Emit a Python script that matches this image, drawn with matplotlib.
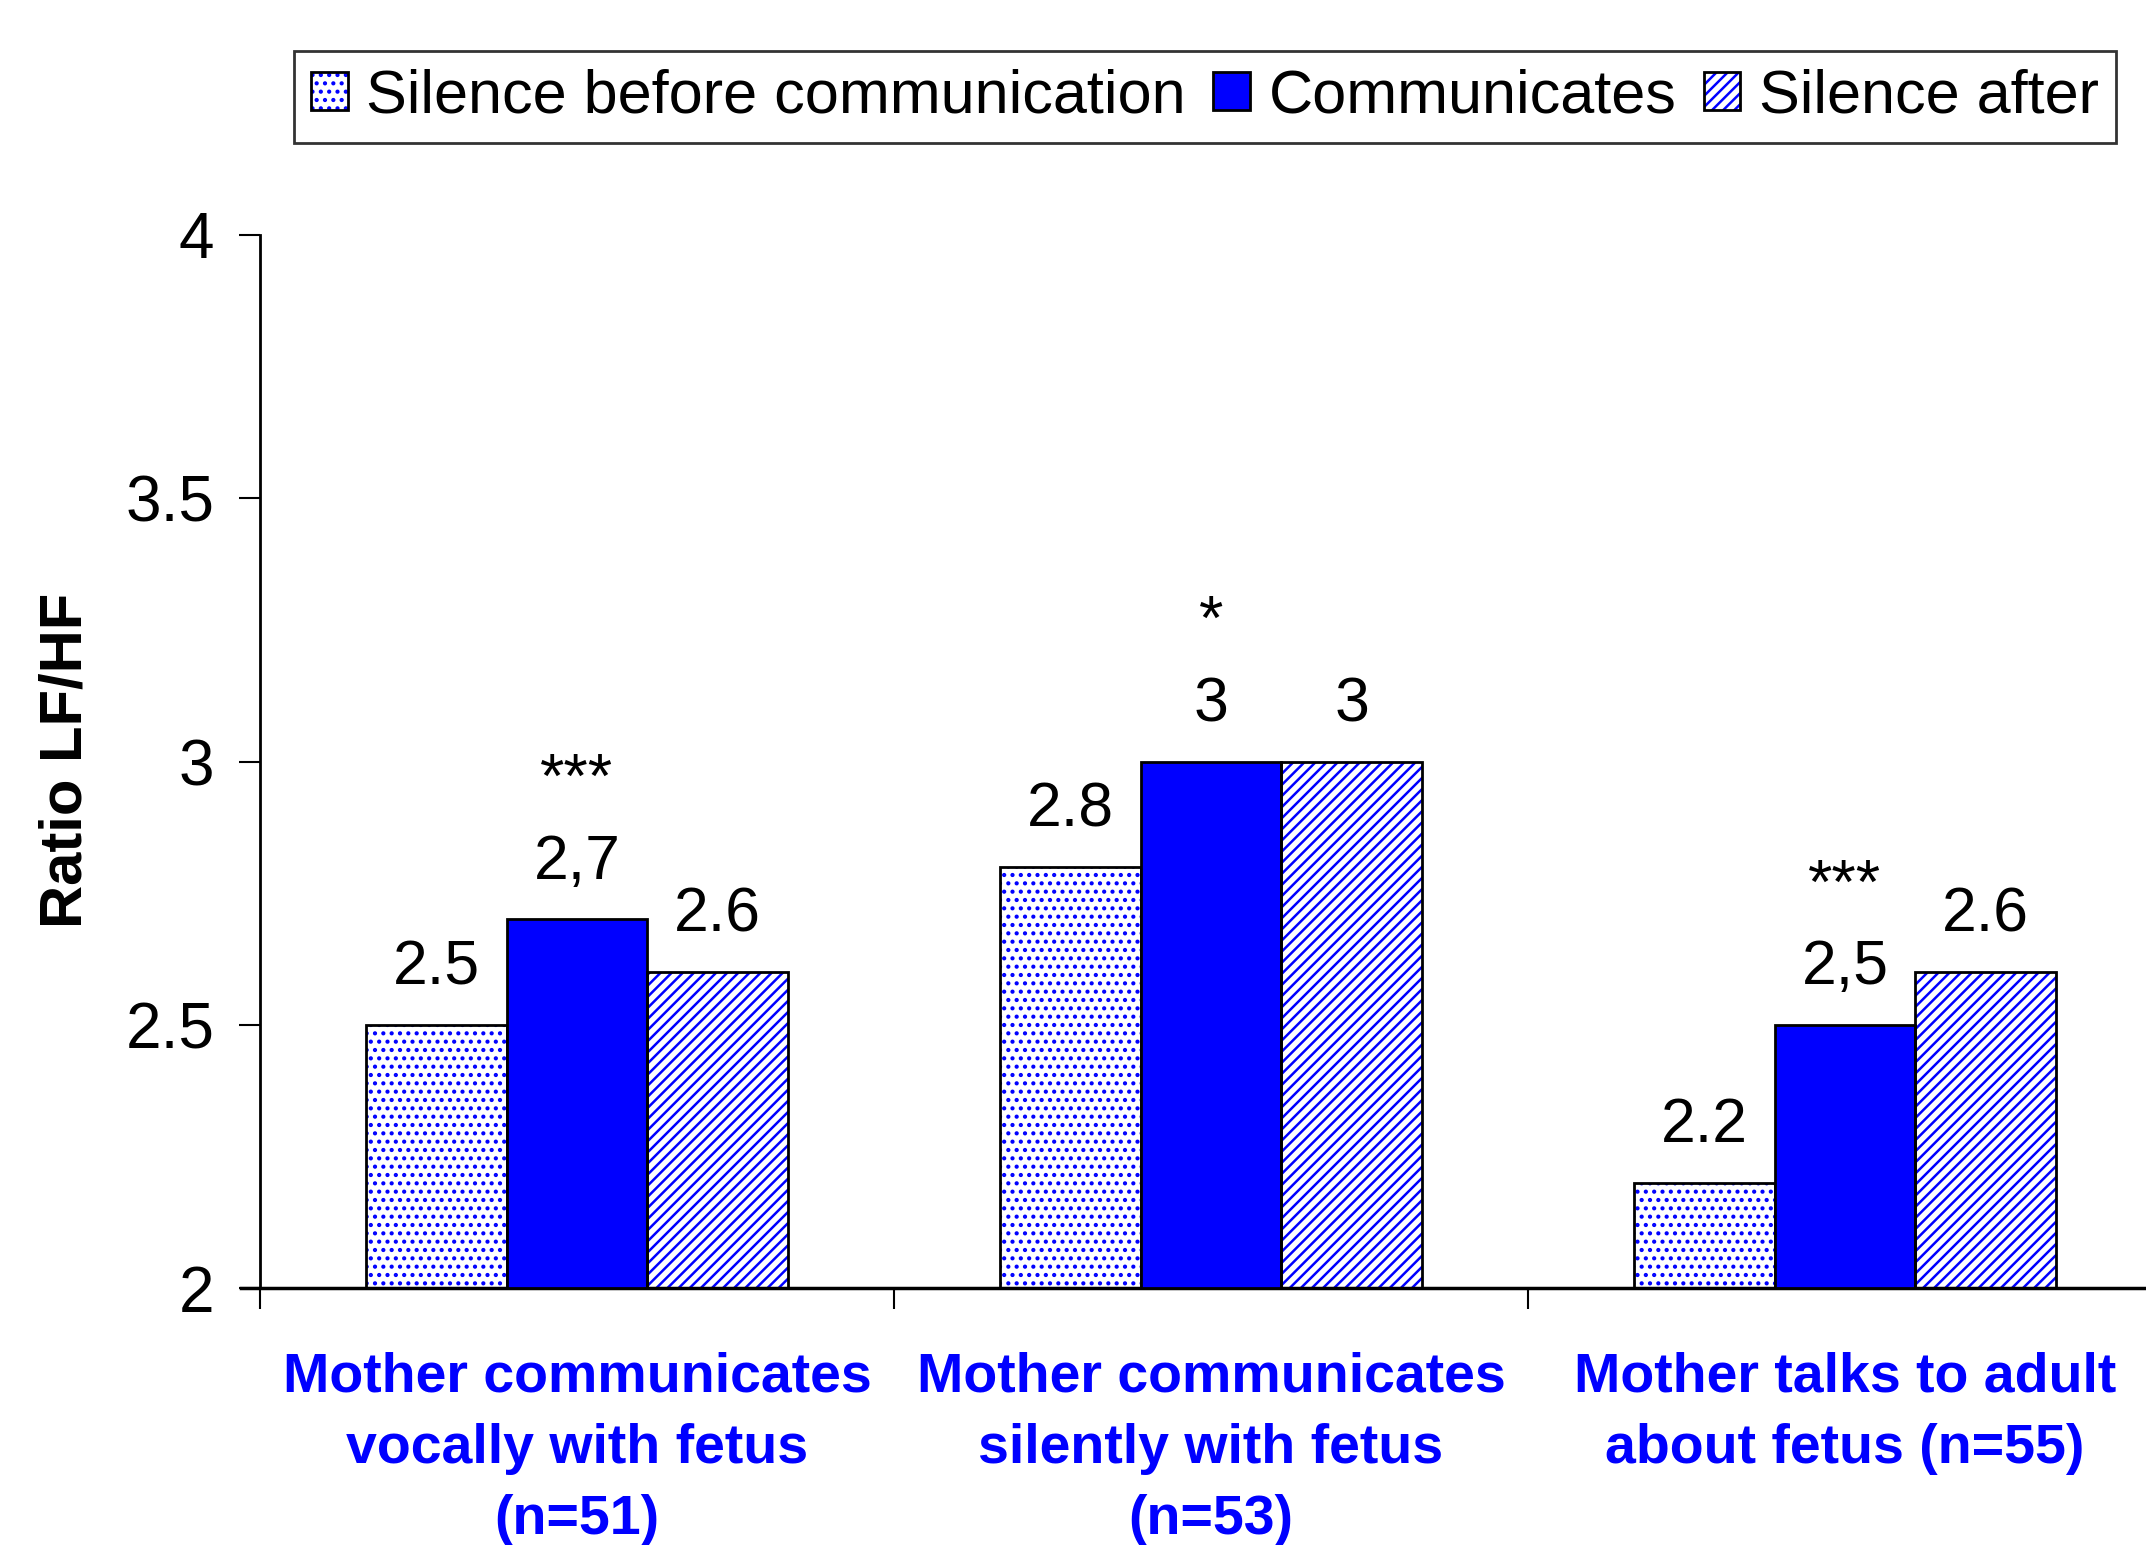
import matplotlib
matplotlib.use("Agg")
import matplotlib.pyplot as plt
from matplotlib.patches import Patch
import numpy as np

plt.rcParams['font.family'] = ['Liberation Sans', 'DejaVu Sans']
plt.rcParams['hatch.linewidth'] = 1.8

categories = ["Mother communicates\nvocally with fetus\n(n=51)",
              "Mother communicates\nsilently with fetus\n(n=53)",
              "Mother talks to adult\nabout fetus (n=55)"]
series_names = ["Silence before communication", "Communicates", "Silence after"]
before = [2.5, 2.8, 2.2]
communicates = [2.7, 3.0, 2.5]
after = [2.6, 3.0, 2.6]
before_labels = ["2.5", "2.8", "2.2"]
comm_labels = ["2,7", "3", "2,5"]
after_labels = ["2.6", "3", "2.6"]
stars = ["***", "*", "***"]
yticks = [2, 2.5, 3, 3.5, 4]
ytick_labels = ["2", "2.5", "3", "3.5", "4"]

BLUE = "#0000FF"
W, H = 2146, 1545
fig = plt.figure(figsize=(W / 100, H / 100), dpi=100)
left, right = 260, 2162
bottom_px, top_px = 1288, 235
ax = fig.add_axes([left / W, 1 - bottom_px / H, (right - left) / W, (bottom_px - top_px) / H])

x = np.arange(len(categories))
width = 0.222
series = [before, communicates, after]
labels = [before_labels, comm_labels, after_labels]
hatches = ['..', None, '///']
offsets = [-width, 0, width]
handles = []
for vals, lbls, hatch, off, name in zip(series, labels, hatches, offsets, series_names):
    if hatch is None:
        ax.bar(x + off, np.array(vals) - 2, width, bottom=2, color=BLUE,
               edgecolor='black', linewidth=2, zorder=3)
        h = Patch(facecolor=BLUE, edgecolor='black', linewidth=2)
    else:
        ax.bar(x + off, np.array(vals) - 2, width, bottom=2, facecolor='white',
               edgecolor=BLUE, hatch=hatch, linewidth=0, zorder=2)
        ax.bar(x + off, np.array(vals) - 2, width, bottom=2, fill=False,
               edgecolor='black', linewidth=2, zorder=3)
        h = (Patch(facecolor='white', edgecolor=BLUE, hatch=hatch, linewidth=0),
             Patch(fill=False, edgecolor='black', linewidth=2))
    handles.append(h)
    for xi, v, lb in zip(x + off, vals, lbls):
        ax.annotate(lb, (xi, v), xytext=(0, 41), textcoords='offset points',
                    ha='center', va='center', fontsize=45, clip_on=False)

for xi, v, s in zip(x, communicates, stars):
    ax.annotate(s, (xi, v), xytext=(0, 100), textcoords='offset points',
                ha='center', va='center', fontsize=45, clip_on=False)

ax.set_xlim(-0.5, 2.5)
ax.set_ylim(2, 4)
ax.set_yticks(yticks)
ax.set_yticklabels(ytick_labels)
ax.set_xticks([-0.5, 0.5, 1.5, 2.5])
ax.set_xticklabels([])
ax.tick_params(axis='y', direction='out', length=15, width=1.5, labelsize=46, pad=18)
ax.tick_params(axis='x', direction='out', length=15, width=1.5)
for sp in ['top', 'right']:
    ax.spines[sp].set_visible(False)
ax.spines['left'].set_linewidth(2)
ax.spines['bottom'].set_linewidth(2.5)
ax.spines['bottom'].set_bounds(-0.53, 2.5)

for xi, c in zip(x, categories):
    ax.annotate(c, (xi, 0), xycoords=('data', 'axes fraction'), xytext=(0, -46),
                textcoords='offset points', ha='center', va='top', fontsize=40,
                fontweight='bold', color=BLUE, linespacing=1.48, annotation_clip=False)

fig.text(66 / W, 1 - 760 / H, "Ratio LF/HF", rotation=90, ha='center', va='center',
         fontsize=43, fontweight='bold')

leg = fig.legend(handles, series_names, loc='center', bbox_to_anchor=(1205 / W, 1 - 97 / H),
                 ncol=3, fontsize=44, frameon=True, fancybox=False, handlelength=0.6,
                 handleheight=0.6, handletextpad=0.3, columnspacing=0.45,
                 borderpad=0.28, borderaxespad=0)
leg.get_frame().set_edgecolor('black')
leg.get_frame().set_linewidth(2)

fig.savefig("out.png", dpi=100)
